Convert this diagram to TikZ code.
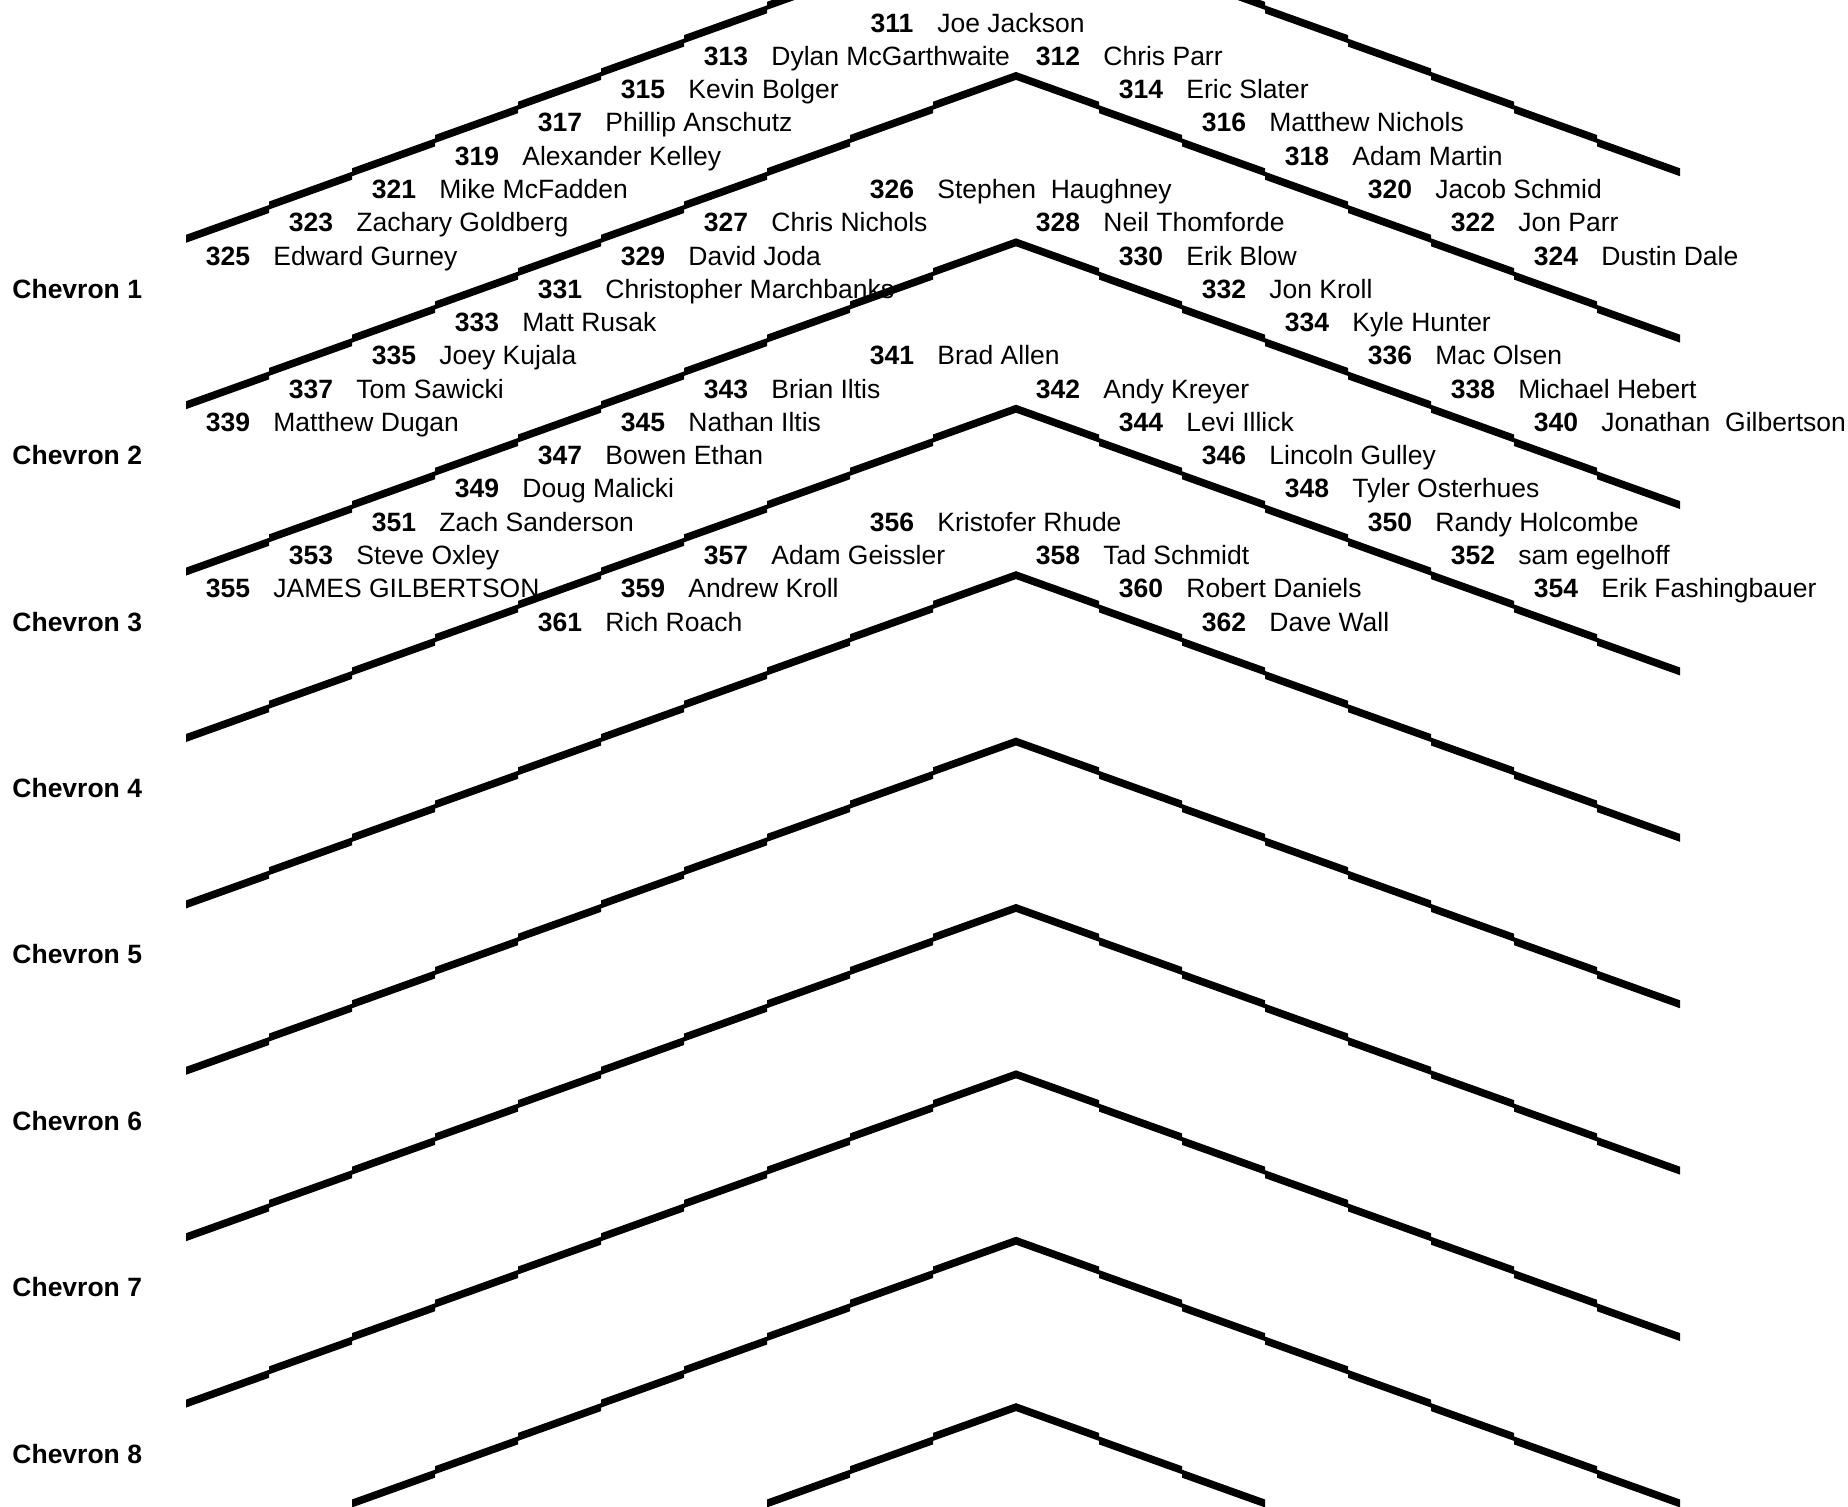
\documentclass[tikz,border=0pt]{standalone}
\usepackage{fontspec}
\setmainfont{Liberation Sans}
\usepackage{tikz}
\newcommand{\seatno}[1]{\makebox[41.5pt][c]{\bfseries #1}\hspace{2pt}}

\begin{document}
\begin{tikzpicture}[x=41.5pt, y=-16.64pt, font=\fontsize{13.25}{15}\selectfont,
  seat/.style={anchor=base west, inner sep=0pt, yshift=-3.9pt},
  chevtag/.style={anchor=base west, inner sep=0pt, yshift=-3.9pt, font=\fontsize{13.25}{15}\selectfont\bfseries},
  chevink/.style={fill=black}]
  \useasboundingbox (-2.241,-0.2284) rectangle (20.024,45.024);
  \clip (-2.241,-0.2284) rectangle (20.024,45.024);
  \node[seat] (s311) at (8,0.5) {\seatno{311}Joe Jackson};
  \node[seat] (s313) at (6,1.5) {\seatno{313}Dylan McGarthwaite};
  \node[seat] (s312) at (10,1.5) {\seatno{312}Chris Parr};
  \node[seat] (s315) at (5,2.5) {\seatno{315}Kevin Bolger};
  \node[seat] (s314) at (11,2.5) {\seatno{314}Eric Slater};
  \node[seat] (s317) at (4,3.5) {\seatno{317}Phillip Anschutz};
  \node[seat] (s316) at (12,3.5) {\seatno{316}Matthew Nichols};
  \node[seat] (s319) at (3,4.5) {\seatno{319}Alexander Kelley};
  \node[seat] (s318) at (13,4.5) {\seatno{318}Adam Martin};
  \node[seat] (s321) at (2,5.5) {\seatno{321}Mike McFadden};
  \node[seat] (s326) at (8,5.5) {\seatno{326}Stephen\ \ Haughney};
  \node[seat] (s320) at (14,5.5) {\seatno{320}Jacob Schmid};
  \node[seat] (s323) at (1,6.5) {\seatno{323}Zachary Goldberg};
  \node[seat] (s327) at (6,6.5) {\seatno{327}Chris Nichols};
  \node[seat] (s328) at (10,6.5) {\seatno{328}Neil Thomforde};
  \node[seat] (s322) at (15,6.5) {\seatno{322}Jon Parr};
  \node[seat] (s325) at (0,7.5) {\seatno{325}Edward Gurney};
  \node[seat] (s329) at (5,7.5) {\seatno{329}David Joda};
  \node[seat] (s330) at (11,7.5) {\seatno{330}Erik Blow};
  \node[seat] (s324) at (16,7.5) {\seatno{324}Dustin Dale};
  \node[chevtag] (chev1) at (-2.096,8.5) {Chevron 1};
  \node[seat] (s331) at (4,8.5) {\seatno{331}Christopher Marchbanks};
  \node[seat] (s332) at (12,8.5) {\seatno{332}Jon Kroll};
  \node[seat] (s333) at (3,9.5) {\seatno{333}Matt Rusak};
  \node[seat] (s334) at (13,9.5) {\seatno{334}Kyle Hunter};
  \node[seat] (s335) at (2,10.5) {\seatno{335}Joey Kujala};
  \node[seat] (s341) at (8,10.5) {\seatno{341}Brad Allen};
  \node[seat] (s336) at (14,10.5) {\seatno{336}Mac Olsen};
  \node[seat] (s337) at (1,11.5) {\seatno{337}Tom Sawicki};
  \node[seat] (s343) at (6,11.5) {\seatno{343}Brian Iltis};
  \node[seat] (s342) at (10,11.5) {\seatno{342}Andy Kreyer};
  \node[seat] (s338) at (15,11.5) {\seatno{338}Michael Hebert};
  \node[seat] (s339) at (0,12.5) {\seatno{339}Matthew Dugan};
  \node[seat] (s345) at (5,12.5) {\seatno{345}Nathan Iltis};
  \node[seat] (s344) at (11,12.5) {\seatno{344}Levi Illick};
  \node[seat] (s340) at (16,12.5) {\seatno{340}Jonathan\ \ Gilbertson};
  \node[chevtag] (chev2) at (-2.096,13.5) {Chevron 2};
  \node[seat] (s347) at (4,13.5) {\seatno{347}Bowen Ethan};
  \node[seat] (s346) at (12,13.5) {\seatno{346}Lincoln Gulley};
  \node[seat] (s349) at (3,14.5) {\seatno{349}Doug Malicki};
  \node[seat] (s348) at (13,14.5) {\seatno{348}Tyler Osterhues};
  \node[seat] (s351) at (2,15.5) {\seatno{351}Zach Sanderson};
  \node[seat] (s356) at (8,15.5) {\seatno{356}Kristofer Rhude};
  \node[seat] (s350) at (14,15.5) {\seatno{350}Randy Holcombe};
  \node[seat] (s353) at (1,16.5) {\seatno{353}Steve Oxley};
  \node[seat] (s357) at (6,16.5) {\seatno{357}Adam Geissler};
  \node[seat] (s358) at (10,16.5) {\seatno{358}Tad Schmidt};
  \node[seat] (s352) at (15,16.5) {\seatno{352}sam egelhoff};
  \node[seat] (s355) at (0,17.5) {\seatno{355}JAMES GILBERTSON};
  \node[seat] (s359) at (5,17.5) {\seatno{359}Andrew Kroll};
  \node[seat] (s360) at (11,17.5) {\seatno{360}Robert Daniels};
  \node[seat] (s354) at (16,17.5) {\seatno{354}Erik Fashingbauer};
  \node[chevtag] (chev3) at (-2.096,18.5) {Chevron 3};
  \node[seat] (s361) at (4,18.5) {\seatno{361}Rich Roach};
  \node[seat] (s362) at (12,18.5) {\seatno{362}Dave Wall};
  \node[chevtag] (chev4) at (-2.096,23.5) {Chevron 4};
  \node[chevtag] (chev5) at (-2.096,28.5) {Chevron 5};
  \node[chevtag] (chev6) at (-2.096,33.5) {Chevron 6};
  \node[chevtag] (chev7) at (-2.096,38.5) {Chevron 7};
  \node[chevtag] (chev8) at (-2.096,43.5) {Chevron 8};
  \foreach \k/\nl/\nr in {0/10/8,1/10/8,2/10/8,3/10/8,4/10/8,5/10/8,6/10/8,7/10/8,8/8/8,9/3/3} {
    \foreach \i in {1,...,\nl}
      \fill[chevink] ({10-\i},{5*\k-3+\i-0.173}) -- ({11-\i},{5*\k-4+\i-0.067}) -- ({11-\i},{5*\k-4+\i+0.173}) -- ({10-\i},{5*\k-3+\i+0.067}) -- cycle;
    \foreach \i in {1,...,\nr}
      \fill[chevink] ({9+\i},{5*\k-4+\i-0.067}) -- ({10+\i},{5*\k-3+\i-0.173}) -- ({10+\i},{5*\k-3+\i+0.067}) -- ({9+\i},{5*\k-4+\i+0.173}) -- cycle;
  }
\end{tikzpicture}
\end{document}
